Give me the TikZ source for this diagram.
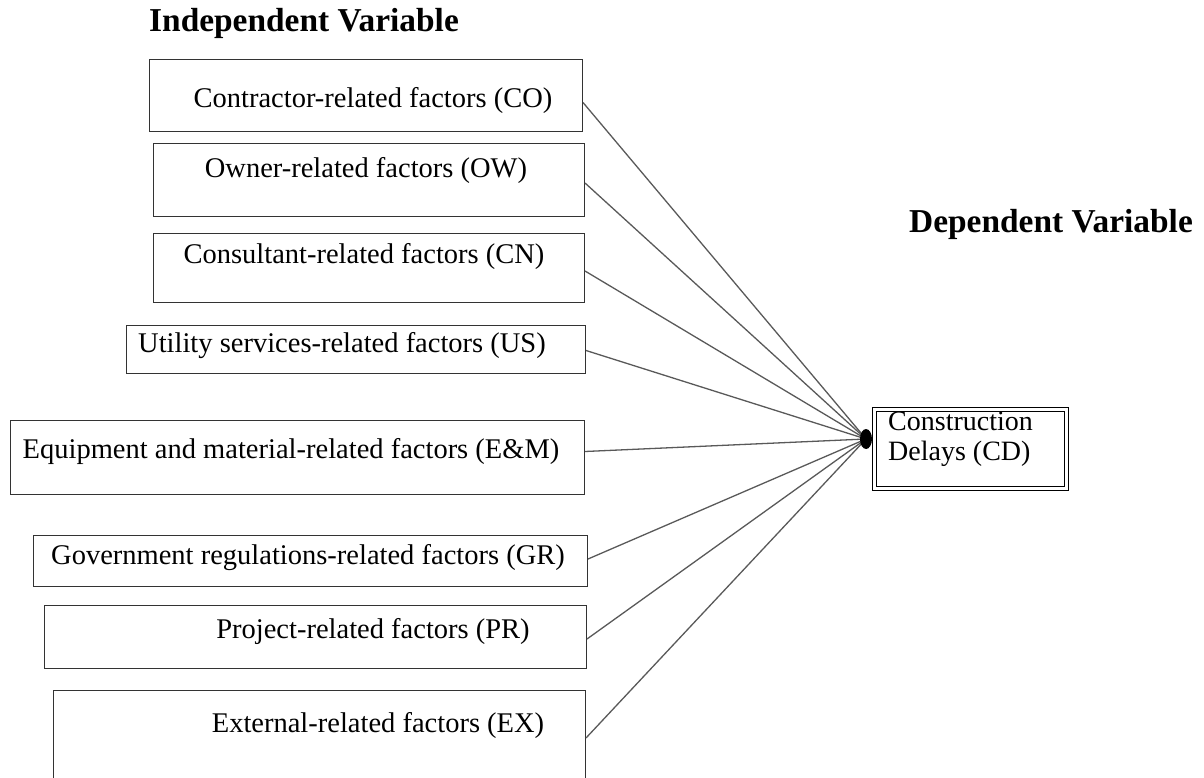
\documentclass[tikz,border=0pt]{standalone}
\usepackage{fontspec}
\setmainfont{Liberation Serif}
\begin{document}
\begin{tikzpicture}[x=1pt,y=-1pt,
  box/.style={draw=black!80,line width=1pt,anchor=north west,inner sep=0pt},
  txt/.style={font=\fontsize{28.5}{32}\selectfont,inner sep=0pt,anchor=base},
  ttl/.style={font=\fontsize{33.4}{36}\selectfont\bfseries,inner sep=0pt,anchor=base west},
  link/.style={draw=black!65,line width=1.3pt}]
\clip (0,0) rectangle (1204,778);
\useasboundingbox (0,0) rectangle (1204,778);
\node[ttl] (iv) at (149,32) {Independent Variable};
\node[ttl] (dv) at (909,232) {Dependent Variable};
% boxes
\node[box,minimum width=433,minimum height=72] (co) at (149,59) {};
\node[box,minimum width=431,minimum height=73] (ow) at (153,143) {};
\node[box,minimum width=431,minimum height=69] (cn) at (153,233) {};
\node[box,minimum width=459,minimum height=48] (us) at (126,325) {};
\node[box,minimum width=574,minimum height=74] (em) at (10,420) {};
\node[box,minimum width=554,minimum height=51] (gr) at (33,535) {};
\node[box,minimum width=542,minimum height=63] (pr) at (44,605) {};
\node[box,minimum width=532,minimum height=120] (ex) at (53,690) {};
% texts
\node[txt] (tco) at (373,108) {Contractor-related factors (CO)};
\node[txt] (tow) at (366,178) {Owner-related factors (OW)};
\node[txt] (tcn) at (364,263) {Consultant-related factors (CN)};
\node[txt] (tus) at (342,352) {Utility services-related factors (US)};
\node[txt] (tem) at (291,458) {Equipment and material-related factors (E\&M)};
\node[txt] (tgr) at (308,564) {Government regulations-related factors (GR)};
\node[txt] (tpr) at (373,638) {Project-related factors (PR)};
\node[txt] (tex) at (378,732) {External-related factors (EX)};
% CD box
\node[draw=black,line width=1.3pt,double=white,double distance=2.5pt,anchor=north west,
  minimum width=192,minimum height=79,inner sep=0pt] (cd) at (874,409) {};
\node[font=\fontsize{28}{30}\selectfont,align=left,anchor=north west,inner sep=0pt] (tcd) at (888,412)
  {Construction\\Delays (CD)};
% hub
\coordinate (hub) at (866,439);
\foreach \b/\dy in {co/7,ow/3,cn/3,us/1,em/-6,gr/-2,pr/2} {
  \draw[link] ([yshift=-\dy pt]\b.east) -- (hub);
}
\draw[link] ([yshift=-48pt]ex.north east) -- (hub);
\fill[black] (hub) ellipse (6 and 10);
\end{tikzpicture}
\end{document}
